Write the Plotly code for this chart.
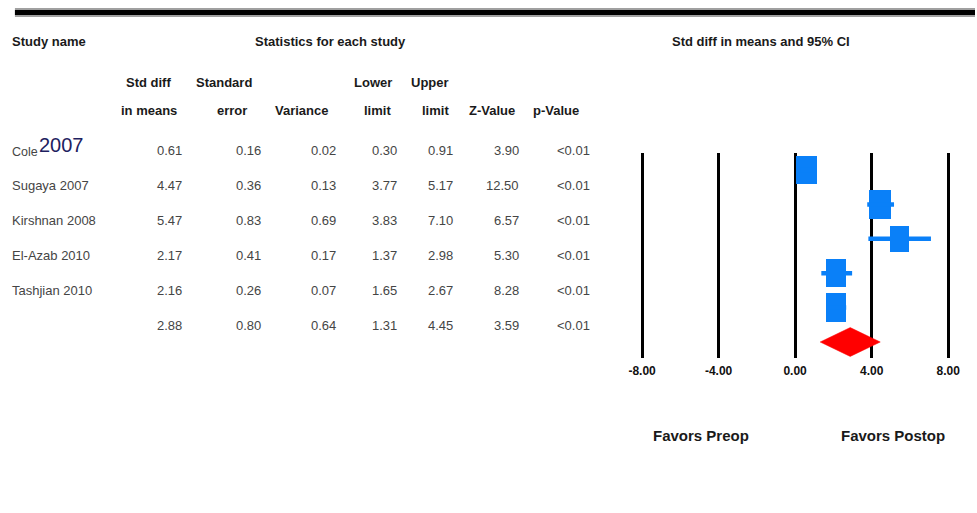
import plotly.graph_objects as go

W, H = 977, 513

# ---- study data -------------------------------------------------------
studies = ["Cole", "Sugaya 2007", "Kirshnan 2008", "El-Azab 2010", "Tashjian 2010"]
std_diff = [0.61, 4.47, 5.47, 2.17, 2.16]
std_err = [0.16, 0.36, 0.83, 0.41, 0.26]
variance = [0.02, 0.13, 0.69, 0.17, 0.07]
lower = [0.30, 3.77, 3.83, 1.37, 1.65]
upper = [0.91, 5.17, 7.10, 2.98, 2.67]
z_value = [3.90, 12.50, 6.57, 5.30, 8.28]
p_value = ["<0.01", "<0.01", "<0.01", "<0.01", "<0.01"]

# pooled (summary) estimate
pooled_diff = 2.88
pooled_se = 0.80
pooled_var = 0.64
pooled_lower = 1.31
pooled_upper = 4.45
pooled_z = 3.59
pooled_p = "<0.01"

tick_vals = [-8, -4, 0, 4, 8]
tick_labels = ["-8.00", "-4.00", "0.00", "4.00", "8.00"]

# ---- styling ------------------------------------------------------------
BLUE = "#0A80F8"
RED = "#FF0000"
FONT = "Liberation Sans, Arial, sans-serif"
TXT = "#454545"
HDR = "#1a1a1a"
# box size per study (x half-width in data units, height in row units)
box_half_w = [0.55, 0.57, 0.50, 0.52, 0.52]
box_h = [0.81, 0.84, 0.76, 0.81, 0.84]


def px(x):
    return x / W


def py(y):
    return 1 - y / H


n = len(studies)
rows = list(range(n))
pooled_row = n

fig = go.Figure()

# confidence interval whiskers
ci_x, ci_y = [], []
for i in rows:
    ci_x += [lower[i], upper[i], None]
    ci_y += [i, i, None]
fig.add_trace(go.Scatter(x=ci_x, y=ci_y, mode="lines",
                         line=dict(color=BLUE, width=4.5),
                         hoverinfo="skip", showlegend=False))

# point-estimate boxes
fig.add_trace(go.Bar(orientation="h", y=rows,
                     x=[2 * h for h in box_half_w],
                     base=[d - h for d, h in zip(std_diff, box_half_w)],
                     width=box_h, marker=dict(color=BLUE, line=dict(width=0)),
                     hoverinfo="skip", showlegend=False))

# summary diamond
dh = 0.42
fig.add_trace(go.Scatter(
    x=[pooled_lower, pooled_diff, pooled_upper, pooled_diff, pooled_lower],
    y=[pooled_row, pooled_row - dh, pooled_row, pooled_row + dh, pooled_row],
    mode="lines", fill="toself", fillcolor=RED, line=dict(color=RED, width=0.5),
    hoverinfo="skip", showlegend=False))

# ---- table text ---------------------------------------------------------
ann = []


def text(x, y, s, anchor="center", size=13, bold=False, color=TXT):
    ann.append(dict(x=px(x), y=py(y), xref="paper", yref="paper",
                    text=f"<b>{s}</b>" if bold else s, showarrow=False,
                    xanchor=anchor, yanchor="middle",
                    font=dict(family=FONT, size=size, color=color)))


LEFT = 6
text(LEFT, 41, "Study name", "left", 13, True, HDR)
text(329, 41, "Statistics for each study", "center", 13, True, HDR)
text(762, 41, "Std diff in means and 95% CI", "center", 13, True, HDR)

for s, x in [("Std diff", 145), ("Standard", 221), ("Lower", 371), ("Upper", 429)]:
    text(x, 83, s, "center", 13, True, HDR)
for s, x in [("in means", 146), ("error", 229), ("Variance", 300), ("limit", 376),
             ("limit", 434), ("Z-Value", 491), ("p-Value", 555)]:
    text(x, 110, s, "center", 13, True, HDR)

col_right = [181, 261, 336, 397, 454, 520, 592]
row_y = [151 + 34.8 * i for i in range(n + 1)]

for i in rows:
    yy = row_y[i]
    if i == 0:
        text(LEFT, yy + 1, studies[i], "left", 12.5)
        text(LEFT + 27, yy - 6, "2007", "left", 20, False, "#1e2160")
    else:
        text(LEFT, yy, studies[i], "left", 13)
    vals = [f"{std_diff[i]:.2f}", f"{std_err[i]:.2f}", f"{variance[i]:.2f}",
            f"{lower[i]:.2f}", f"{upper[i]:.2f}", f"{z_value[i]:.2f}", p_value[i]]
    for v, xr in zip(vals, col_right):
        text(xr, yy, v, "right", 13)

pooled_vals = [f"{pooled_diff:.2f}", f"{pooled_se:.2f}", f"{pooled_var:.2f}",
               f"{pooled_lower:.2f}", f"{pooled_upper:.2f}", f"{pooled_z:.2f}", pooled_p]
for v, xr in zip(pooled_vals, col_right):
    text(xr, row_y[n], v, "right", 13)

text(701, 435, "Favors Preop", "center", 15, True, HDR)
text(894, 435, "Favors Postop", "center", 15, True, HDR)

# ---- axes ------------------------------------------------------------------
unit = (950 - 642) / 16.0
x_lo, x_hi = -8.5, 8.5
dom_x = [(642 + (x_lo + 8) * unit) / W, (642 + (x_hi + 8) * unit) / W]
row_px = 34.4
top_px, bot_px = 153, 358
y_top = (top_px - 170) / row_px
y_bot = (bot_px - 170) / row_px

fig.update_layout(
    width=W, height=H, margin=dict(l=0, r=0, t=0, b=0),
    paper_bgcolor="white", plot_bgcolor="white",
    annotations=ann,
    bargap=0,
    xaxis=dict(domain=dom_x, range=[x_lo, x_hi], tickvals=tick_vals,
               ticktext=tick_labels, showgrid=True, gridcolor="black",
               gridwidth=3, zeroline=False, showline=False, ticks="",
               ticklabelstandoff=4,
               tickfont=dict(family=FONT, size=12, color="#111", weight="bold"),
               fixedrange=True),
    yaxis=dict(domain=[py(bot_px), py(top_px)], range=[y_bot, y_top],
               showgrid=False, zeroline=False, showticklabels=False,
               showline=False, fixedrange=True),
    shapes=[
        dict(type="line", xref="paper", yref="paper", x0=px(11), x1=1,
             y0=py(12.5), y1=py(12.5), line=dict(color="#a0a0a0", width=9)),
        dict(type="line", xref="paper", yref="paper", x0=px(11), x1=1,
             y0=py(12.5), y1=py(12.5), line=dict(color="black", width=5)),
    ],
)

fig.write_html("out.html")
